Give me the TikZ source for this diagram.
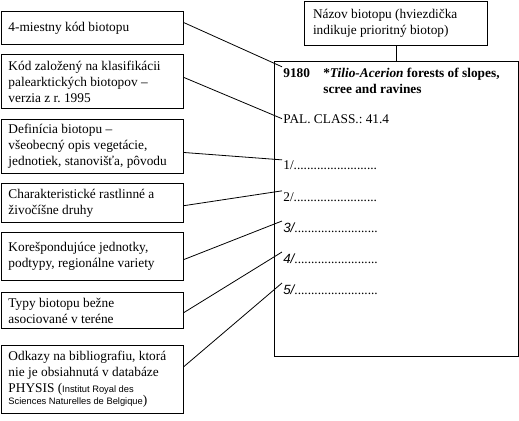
\documentclass[tikz,border=0pt]{standalone}
\usepackage{fontspec}
\setmainfont{Liberation Serif}
\newfontfamily\notesans{Liberation Sans}
\usetikzlibrary{positioning,calc}
\tikzset{
  notebox/.style={draw, line width=0.75pt, anchor=north west, align=left, font=\normalsize,
    text width=126pt, inner xsep=5.25pt, inner ysep=0pt, minimum width=136.5pt,
    execute at begin node={\spaceskip=0pt\xspaceskip=0pt\relax}},
  cardtext/.style={anchor=base west, align=left, inner sep=0.8pt, font=\normalsize,
    execute at begin node={\spaceskip=0pt\xspaceskip=0pt\relax}},
  callout/.style={line width=0.6pt},
}
\frenchspacing

\begin{document}
\begin{tikzpicture}[x=0.75pt, y=-0.75pt]
  \useasboundingbox (0,0) rectangle (519,421);
  \node[notebox, minimum height=24.75pt] (code) at (1,11) {4-miestny kód biotopu};
  \node[notebox, minimum height=40.5pt] (palcode) at (1,54) {Kód založený na klasifikácii\\palearktických biotopov --\\verzia z r. 1995};
  \node[notebox, minimum height=40.5pt] (defn) at (1,119) {Definícia biotopu --\\všeobecný opis vegetácie,\\jednotiek, stanovišťa, pôvodu};
  \node[notebox, minimum height=29.25pt] (species) at (1,183) {Charakteristické rastlinné a\\živočíšne druhy};
  \node[notebox, minimum height=36pt] (units) at (1,232) {Korešpondujúce jednotky,\\podtypy, regionálne variety};
  \node[notebox, minimum height=27pt] (assoc) at (1,292) {Typy biotopu bežne\\asociované v teréne};
  \node[notebox, minimum height=51pt] (refs) at (1,345) {Odkazy na bibliografiu, ktorá\\nie je obsiahnutá v databáze\\PHYSIS ({\notesans\fontsize{7}{9}\selectfont Institut Royal des}\\[-3pt]{\notesans\fontsize{7}{9}\selectfont Sciences Naturelles de Belgique})};
  \node[draw, line width=0.75pt, anchor=north west, minimum width=183pt, minimum height=221.25pt] (card) at (274,61) {};
  \node[notebox, text width=124.5pt, inner xsep=6.375pt, minimum width=137.25pt, minimum height=33pt] (title) at (304,1) {Názov biotopu (hviezdička\\indikuje prioritný biotop)};
  \draw[callout] (title.south) -- (title.south |- card.north);
  \node[cardtext, font=\bfseries] (num) at (282,77) {9180};
  \node[cardtext, font=\bfseries, anchor=north west] (name) at (322,67) {*\textit{Tilio-Acerion} forests of slopes,\\scree and ravines};
  \node[cardtext] (pal) at (282,123) {PAL. CLASS.: 41.4};
  \node[cardtext] (f1) at (282,170) {1/.........................};
  \node[cardtext] (f2) at (282,201) {2/.........................};
  \node[cardtext] (f3) at (282,232) {{\notesans\itshape 3/}.........................};
  \node[cardtext] (f4) at (282,263) {{\notesans\itshape 4/}.........................};
  \node[cardtext] (f5) at (282,294) {{\notesans\itshape 5/}.........................};
  \draw[callout] ([yshift=4pt]code.east) -- (num.north west);
  \draw[callout] ([yshift=3pt]palcode.east) -- (pal.west);
  \draw[callout] ([yshift=-4.5pt]defn.east) -- (f1.north west);
  \draw[callout] ([yshift=-2pt]species.east) -- (f2.north west);
  \draw[callout] ([yshift=-2.25pt]units.east) -- (f3.north west);
  \draw[callout] ([yshift=-1.5pt]assoc.east) -- (f4.north west);
  \draw[callout] ([yshift=9.75pt]refs.east) -- (f5.north west);
\end{tikzpicture}
\end{document}
